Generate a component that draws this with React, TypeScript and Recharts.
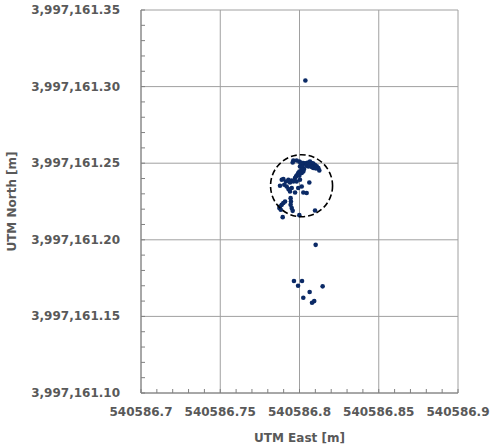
import React from "react";
import {
  ScatterChart,
  Scatter,
  XAxis,
  YAxis,
  ReferenceLine,
  ReferenceDot,
  Label,
} from "recharts";

// measured positions (UTM)
const east = [
  540586.7961, 540586.7957, 540586.7982, 540586.7999, 540586.8008, 540586.8024, 540586.8035, 540586.8045,
  540586.8056, 540586.8066, 540586.8077, 540586.8087, 540586.8098, 540586.8109, 540586.8119, 540586.8125,
  540586.8045, 540586.8056, 540586.8066, 540586.8077, 540586.8087, 540586.8104, 540586.8014, 540586.8003,
  540586.802, 540586.8029, 540586.8014, 540586.7999, 540586.7992, 540586.7986, 540586.7978, 540586.7972,
  540586.7999, 540586.8014, 540586.8024, 540586.8003, 540586.7982, 540586.7961, 540586.7951, 540586.794,
  540586.793, 540586.7915, 540586.7898, 540586.7888, 540586.7904, 540586.7877, 540586.7919, 540586.793,
  540586.794, 540586.7972, 540586.7951, 540586.8014, 540586.7992, 540586.8024, 540586.8045, 540586.8062,
  540586.7909, 540586.7898, 540586.7888, 540586.7877, 540586.7873, 540586.7882, 540586.7944, 540586.7946,
  540586.7944, 540586.7951, 540586.7957, 540586.7894, 540586.7999, 540586.8098, 540586.8037, 540586.8102,
  540586.7965, 540586.8016, 540586.7991, 540586.8064, 540586.8146, 540586.8024, 540586.8079, 540586.8093,
];

const north = [
  3997161.2518, 3997161.2505, 3997161.2518, 3997161.251, 3997161.2505, 3997161.2501, 3997161.2497, 3997161.2501,
  3997161.2505, 3997161.251, 3997161.2501, 3997161.2497, 3997161.2488, 3997161.2479, 3997161.2469, 3997161.2453,
  3997161.2484, 3997161.2479, 3997161.2488, 3997161.2475, 3997161.2469, 3997161.2466, 3997161.249, 3997161.2479,
  3997161.2475, 3997161.2462, 3997161.2457, 3997161.2446, 3997161.2436, 3997161.2425, 3997161.2414, 3997161.2403,
  3997161.2418, 3997161.2436, 3997161.2446, 3997161.2392, 3997161.2381, 3997161.2381, 3997161.2387, 3997161.2374,
  3997161.2392, 3997161.2381, 3997161.2397, 3997161.2392, 3997161.2359, 3997161.2353, 3997161.2348, 3997161.2331,
  3997161.2315, 3997161.2309, 3997161.2338, 3997161.2348, 3997161.2338, 3997161.2309, 3997161.2305, 3997161.2374,
  3997161.225, 3997161.224, 3997161.2228, 3997161.2217, 3997161.2207, 3997161.2196, 3997161.2272, 3997161.225,
  3997161.2228, 3997161.2207, 3997161.2189, 3997161.2148, 3997161.2161, 3997161.2191, 3997161.304, 3997161.1967,
  3997161.1731, 3997161.1731, 3997161.17, 3997161.1659, 3997161.1696, 3997161.1622, 3997161.1589, 3997161.16,
];

const data = east.map((e, i) => ({ east: e, north: north[i] }));

// circle around the mean position
const circleCenter = { east: 540586.8013, north: 3997161.2353 };

const xMajor = [540586.7, 540586.75, 540586.8, 540586.85, 540586.9];
const xLabels = ["540586.7", "540586.75", "540586.8", "540586.85", "540586.9"];
const xMinor = [
  540586.7, 540586.71, 540586.72, 540586.73, 540586.74, 540586.75, 540586.76, 540586.77, 540586.78,
  540586.79, 540586.8, 540586.81, 540586.82, 540586.83, 540586.84, 540586.85, 540586.86, 540586.87,
  540586.88, 540586.89, 540586.9,
];

const yMajor = [3997161.1, 3997161.15, 3997161.2, 3997161.25, 3997161.3, 3997161.35];
const yLabels = ["3,997,161.10", "3,997,161.15", "3,997,161.20", "3,997,161.25", "3,997,161.30", "3,997,161.35"];
const yMinor = [
  3997161.1, 3997161.11, 3997161.12, 3997161.13, 3997161.14, 3997161.15, 3997161.16, 3997161.17, 3997161.18,
  3997161.19, 3997161.2, 3997161.21, 3997161.22, 3997161.23, 3997161.24, 3997161.25, 3997161.26, 3997161.27,
  3997161.28, 3997161.29, 3997161.3, 3997161.31, 3997161.32, 3997161.33, 3997161.34, 3997161.35,
];

const font = "'DejaVu Sans', sans-serif";
const textColor = "#595959";
const axisColor = "#808080";
const gridColor = "#a0a0a0";
const dotColor = "#0b2a66";

const findLabel = (v: number, majors: number[], labels: string[]) => {
  const i = majors.findIndex((m) => Math.abs(m - v) < 1e-6);
  return i >= 0 ? labels[i] : null;
};

const XTick = (props: any) => {
  const { x, y, payload } = props;
  const label = findLabel(payload.value, xMajor, xLabels);
  return (
    <g>
      <line x1={x} x2={x} y1={y} y2={y - 4} stroke={axisColor} />
      {label && (
        <text x={x} y={y + 23} textAnchor="middle" fontFamily={font} fontSize={12} fontWeight="bold" fill={textColor}>
          {label}
        </text>
      )}
    </g>
  );
};

const YTick = (props: any) => {
  const { x, y, payload } = props;
  const label = findLabel(payload.value, yMajor, yLabels);
  return (
    <g>
      <line x1={x} x2={x + 4} y1={y} y2={y} stroke={axisColor} />
      {label && (
        <text x={x - 21} y={y + 4} textAnchor="end" fontFamily={font} fontSize={12} fontWeight="bold" fill={textColor}>
          {label}
        </text>
      )}
    </g>
  );
};

export default function App() {
  return (
    <div style={{ position: "absolute", left: 0, top: 0, background: "#fff" }}>
      <ScatterChart width={498} height={448} margin={{ top: 10, right: 40, left: 0, bottom: 0 }}>
        {xMajor.map((v) => (
          <ReferenceLine key={"x" + v} x={v} stroke={gridColor} strokeWidth={1} />
        ))}
        {yMajor.map((v) => (
          <ReferenceLine key={"y" + v} y={v} stroke={gridColor} strokeWidth={1} />
        ))}
        <XAxis
          type="number"
          dataKey="east"
          domain={[xMajor[0], xMajor[xMajor.length - 1]]}
          ticks={xMinor}
          interval={0}
          allowDataOverflow
          height={55}
          tickSize={0}
          tickMargin={0}
          tickLine={false}
          tick={<XTick />}
          stroke={axisColor}
        >
          <Label
            value="UTM East [m]"
            position="insideBottom"
            offset={6}
            style={{ fontFamily: font, fontSize: 12, fontWeight: "bold", fill: textColor }}
          />
        </XAxis>
        <YAxis
          type="number"
          dataKey="north"
          domain={[yMajor[0], yMajor[yMajor.length - 1]]}
          ticks={yMinor}
          interval={0}
          allowDataOverflow
          width={141}
          tickSize={0}
          tickMargin={0}
          tickLine={false}
          tick={<YTick />}
          stroke={axisColor}
        >
          <Label
            value="UTM North [m]"
            angle={-90}
            position="insideLeft"
            offset={18}
            dx={-6}
            style={{ fontFamily: font, fontSize: 12, fontWeight: "bold", fill: textColor, textAnchor: "middle" }}
          />
        </YAxis>
        <Scatter
          data={data}
          isAnimationActive={false}
          fill={dotColor}
          shape={(p: any) => <circle cx={p.cx} cy={p.cy} r={2.3} fill={dotColor} />}
        />
        <ReferenceDot
          x={circleCenter.east}
          y={circleCenter.north}
          r={31}
          fill="none"
          stroke="#000"
          strokeWidth={1.6}
          strokeDasharray="6 3"
        />
      </ScatterChart>
    </div>
  );
}
